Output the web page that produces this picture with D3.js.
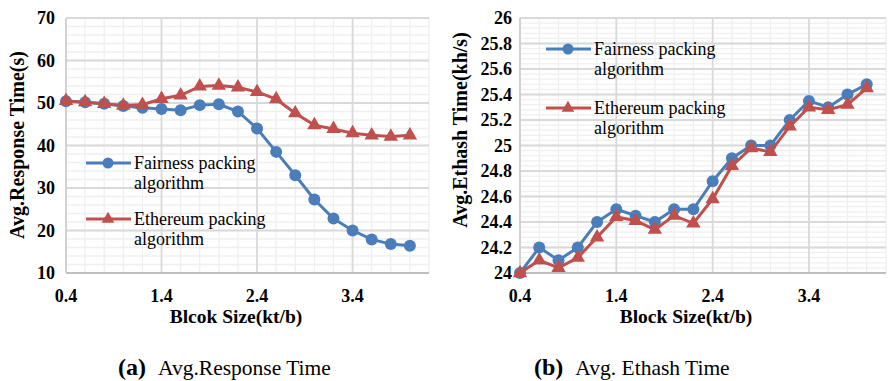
<!DOCTYPE html>
<html>
<head>
<meta charset="utf-8">
<script src="https://cdn.jsdelivr.net/npm/d3@7"></script>
<style>
  body { margin: 0; background: #fff; }
</style>
</head>
<body>
<div id="chart"></div>
<script>
// block sizes (kt/b)
const blockSizes = [0.4, 0.6, 0.8, 1.0, 1.2, 1.4, 1.6, 1.8, 2.0, 2.2, 2.4, 2.6, 2.8, 3.0, 3.2, 3.4, 3.6, 3.8, 4.0];
const xTicks = [0.4, 1.4, 2.4, 3.4];

// (a) avg response time (s)
const respFairness = [50.4, 50.2, 49.8, 49.3, 48.9, 48.6, 48.3, 49.5, 49.7, 48.0, 44.0, 38.5, 33.0, 27.3, 22.8, 20.0, 17.9, 16.8, 16.4];
const respEthereum = [50.5, 50.2, 49.8, 49.4, 49.6, 51.0, 51.8, 53.9, 54.1, 53.7, 52.6, 50.9, 47.6, 44.8, 43.9, 42.9, 42.4, 42.1, 42.4];
const respTicks = [10, 20, 30, 40, 50, 60, 70];

// (b) avg ethash time (kh/s)
const ethFairness = [24.0, 24.2, 24.1, 24.2, 24.4, 24.5, 24.45, 24.4, 24.5, 24.5, 24.72, 24.9, 25.0, 25.0, 25.2, 25.35, 25.3, 25.4, 25.48];
const ethEthereum = [24.0, 24.1, 24.04, 24.12, 24.28, 24.44, 24.41, 24.34, 24.45, 24.39, 24.58, 24.84, 24.98, 24.95, 25.15, 25.3, 25.28, 25.32, 25.45];
const ethTicks = [24, 24.2, 24.4, 24.6, 24.8, 25, 25.2, 25.4, 25.6, 25.8, 26];

const seriesNames = ["Fairness packing", "Ethereum packing"];
const blue = "#4a7ebb", red = "#c0504d";
const serif = "'Liberation Serif', 'Times New Roman', serif";

const svg = d3.select("#chart").append("svg")
    .attr("width", 888)
    .attr("height", 381);

function drawPanel(opts) {
    const g = svg.append("g");
    const x = d3.scaleLinear().domain([0.4, 4.2]).range([opts.left, opts.right]);
    const y = d3.scaleLinear().domain(opts.yDomain).range([273, 18]);

    // minor gridlines
    g.selectAll(".minor-h")
        .data(d3.range(opts.yDomain[0], opts.yDomain[1] + 1e-9, opts.yMinor))
        .join("line")
        .attr("x1", opts.left).attr("x2", opts.right)
        .attr("y1", d => y(d)).attr("y2", d => y(d))
        .attr("stroke", "#efefef").attr("stroke-width", 1.3);
    g.selectAll(".minor-v")
        .data(d3.range(0.4, 4.2 + 1e-9, 0.2))
        .join("line")
        .attr("x1", d => x(d)).attr("x2", d => x(d))
        .attr("y1", 18).attr("y2", 273)
        .attr("stroke", "#efefef").attr("stroke-width", 1.3);

    // major gridlines
    g.selectAll(".major-h")
        .data(opts.yTicks)
        .join("line")
        .attr("x1", opts.left).attr("x2", opts.right)
        .attr("y1", d => y(d)).attr("y2", d => y(d))
        .attr("stroke", "#d9d9d9").attr("stroke-width", 1.8);
    g.selectAll(".major-v")
        .data(xTicks)
        .join("line")
        .attr("x1", d => x(d)).attr("x2", d => x(d))
        .attr("y1", 18).attr("y2", 273)
        .attr("stroke", "#d9d9d9").attr("stroke-width", 1.8);

    // axis lines
    g.append("line").attr("x1", opts.left).attr("x2", opts.right).attr("y1", 273).attr("y2", 273)
        .attr("stroke", "#bfbfbf").attr("stroke-width", 1.8);
    g.append("line").attr("x1", opts.left).attr("x2", opts.left).attr("y1", 18).attr("y2", 273)
        .attr("stroke", "#d0d0d0").attr("stroke-width", 1.8);

    // tick labels
    g.selectAll(".ytick")
        .data(opts.yTicks)
        .join("text")
        .attr("x", opts.tickRight)
        .attr("y", d => y(d) + 6)
        .attr("text-anchor", "end")
        .style("font-family", serif)
        .style("font-size", "18px").style("font-weight", "bold")
        .text(d => d);
    g.selectAll(".xtick")
        .data(xTicks)
        .join("text")
        .attr("x", d => x(d))
        .attr("y", 302)
        .attr("text-anchor", "middle")
        .style("font-family", serif)
        .style("font-size", "18px").style("font-weight", "bold")
        .text(d => d.toFixed(1));

    // axis titles
    g.append("text")
        .attr("x", opts.xTitleX).attr("y", 323)
        .attr("text-anchor", "middle")
        .style("font-family", serif)
        .style("font-size", "19.5px").style("font-weight", "bold")
        .text(opts.xTitle);
    g.append("text")
        .attr("transform", `translate(${opts.yTitleX},${opts.yTitleY}) rotate(-90)`)
        .attr("text-anchor", "middle")
        .style("font-family", serif)
        .style("font-size", "20px").style("font-weight", "bold")
        .text(opts.yTitle);

    // series
    const line = d3.line().x((d, i) => x(blockSizes[i])).y(d => y(d));
    const tri = d3.symbol().type(d3.symbolTriangle).size(90);

    g.append("path").datum(opts.fair)
        .attr("fill", "none").attr("stroke", blue).attr("stroke-width", 3)
        .attr("d", line);
    g.selectAll(".dot")
        .data(opts.fair)
        .join("circle")
        .attr("cx", (d, i) => x(blockSizes[i]))
        .attr("cy", d => y(d))
        .attr("r", 6)
        .attr("fill", blue);

    g.append("path").datum(opts.eth)
        .attr("fill", "none").attr("stroke", red).attr("stroke-width", 3)
        .attr("d", line);
    g.selectAll(".tri")
        .data(opts.eth)
        .join("path")
        .attr("transform", (d, i) => `translate(${x(blockSizes[i])},${y(d)})`)
        .attr("d", tri)
        .attr("fill", red);

    // legend
    const lg = opts.legend;
    [[blue, "circle"], [red, "tri"]].forEach(([c, m], k) => {
        const ly = lg.y[k];
        g.append("line")
            .attr("x1", lg.x).attr("x2", lg.x + 45)
            .attr("y1", ly).attr("y2", ly)
            .attr("stroke", c).attr("stroke-width", 3);
        if (m === "circle") {
            g.append("circle").attr("cx", lg.x + 22).attr("cy", ly).attr("r", 5.5).attr("fill", c);
        } else {
            g.append("path").attr("transform", `translate(${lg.x + 22},${ly})`)
                .attr("d", d3.symbol().type(d3.symbolTriangle).size(70)).attr("fill", c);
        }
        const t = g.append("text")
            .attr("x", lg.x + 48)
            .attr("y", ly + 6)
            .style("font-family", serif)
            .style("font-size", "18px");
        t.append("tspan").text(seriesNames[k]);
        t.append("tspan").attr("x", lg.x + 48).attr("dy", 20).text("algorithm");
    });

    // caption
    const cap = g.append("text").attr("x", opts.capX).attr("y", 375)
        .style("font-family", serif);
    cap.append("tspan").style("font-size", "24px").style("font-weight", "bold").text(opts.capLabel);
    cap.append("tspan").attr("dx", 12).style("font-size", "21.5px").text(opts.capText);
}

drawPanel({
    left: 66, right: 429,
    yDomain: [10, 70], yTicks: respTicks, yMinor: 2,
    tickRight: 55,
    fair: respFairness, eth: respEthereum,
    xTitle: "Blcok Size(kt/b)", xTitleX: 236,
    yTitle: "Avg.Response Time(s)", yTitleX: 24, yTitleY: 145,
    legend: { x: 86, y: [163, 219] },
    capX: 118, capLabel: "(a)", capText: "Avg.Response Time"
});

drawPanel({
    left: 520, right: 886,
    yDomain: [24, 26], yTicks: ethTicks, yMinor: 0.04,
    tickRight: 512,
    fair: ethFairness, eth: ethEthereum,
    xTitle: "Block Size(kt/b)", xTitleX: 686,
    yTitle: "Avg.Ethash Time(kh/s)", yTitleX: 467, yTitleY: 130,
    legend: { x: 546, y: [49, 108] },
    capX: 534, capLabel: "(b)", capText: "Avg. Ethash Time"
});
</script>
</body>
</html>
